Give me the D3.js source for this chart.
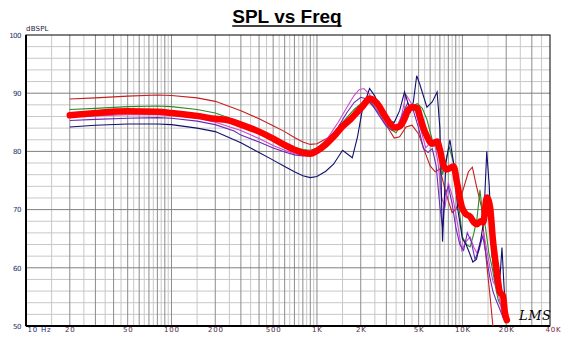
<!DOCTYPE html>
<html><head><meta charset="utf-8">
<script src="https://cdn.jsdelivr.net/npm/d3@7"></script>
<style>body{margin:0;background:#fff}svg{display:block}</style>
</head><body>
<svg id="c" width="575" height="344"></svg>
<script>
const titleText = "SPL vs Freq";
const yLabel = "dBSPL";
const yTicks = [50, 60, 70, 80, 90, 100];
const xTickValues = [10, 20, 50, 100, 200, 500, 1000, 2000, 5000, 10000, 20000, 40000];
const xTickLabels = ["10 Hz", "20", "50", "100", "200", "500", "1K", "2K", "5K", "10K", "20K", "40K"];

const darkRedFreq = [20,30,50,80,100,150,200,300,400,500,600,700,800,900,1000,1200,1500,1800,2100,2300,2600,3000,3400,3700,4100,4500,5000,5500,6000,6500,7000,7500,8000,8500,9000,10000,11000,11700,12500,13500,14500,15500,16200];
const darkRedDb   = [89.0,89.2,89.5,89.7,89.6,89.2,88.6,87.0,85.6,84.4,83.4,82.4,81.6,81.2,81.3,82.4,84.6,86.6,88.0,88.4,87.0,84.5,82.3,82.5,84.2,84.5,83.0,80.0,77.5,76.5,77.0,74.0,71.5,69.5,70.0,73.0,76.5,77.3,74.0,70.5,62.0,55.0,50.0];

const greenFreq = [20,30,50,80,100,150,200,300,400,500,600,700,800,900,1000,1200,1500,1800,2100,2300,2600,2900,3200,3500,3800,4100,4500,4900,5300,5700,6200,6700,7000,7300,7700,8100,8700,9300,10000,10700,11300,12000,12600,13200,13800,14400,15200,16000,16800,17600,18500,19500];
const greenDb   = [87.2,87.4,87.7,87.8,87.7,87.2,86.6,85.0,83.6,82.4,81.4,80.7,80.3,80.2,80.6,82.2,85.0,87.2,88.6,88.8,87.0,85.0,83.8,83.2,84.8,86.8,87.8,88.2,87.4,85.5,82.0,80.2,79.5,76.0,78.5,80.8,78.0,72.0,65.3,64.0,63.6,66.0,68.5,73.4,69.0,67.0,62.5,60.1,57.0,54.5,53.3,51.5];

const magentaFreq = [20,30,50,80,100,150,200,300,400,500,600,700,800,900,1000,1200,1400,1600,1800,1950,2100,2300,2600,2900,3200,3500,3800,4100,4400,4800,5200,5600,6000,6400,6800,7200,7600,8000,8600,9200,9900,10600,11300,12000,12600,13300,14000,14700,15500,16300,17200,18200,19000,19800];
const magentaDb   = [85.9,86.1,86.3,86.3,86.2,85.7,85.0,83.6,82.2,81.0,80.2,79.6,79.4,79.6,80.3,82.5,85.0,87.5,89.6,90.6,90.8,89.8,86.8,85.0,84.2,84.0,86.0,89.7,88.5,86.6,83.5,80.6,81.5,82.0,78.0,72.0,70.5,74.6,72.0,68.0,63.0,64.5,65.3,63.5,62.5,64.5,66.0,63.0,60.0,57.5,56.7,54.0,51.5,50.5];

const purpleFreq = [20,30,50,80,100,150,200,270,300,400,500,600,700,800,900,1000,1200,1400,1600,1800,2000,2200,2400,2700,3000,3300,3600,3900,4200,4600,5000,5400,5800,6200,6600,7000,7300,7600,8000,8500,9000,9600,10200,10800,11500,12200,13000,13800,14600,15400,16200,17000,18000,19000,20000];
const purpleDb   = [85.3,85.5,85.7,85.8,85.7,85.2,84.6,83.5,82.8,81.6,80.6,79.9,79.4,79.2,79.3,79.8,81.8,84.2,86.6,88.4,89.3,89.0,88.0,86.0,84.3,83.6,84.2,86.5,88.3,87.0,84.0,80.5,79.8,80.5,77.5,70.5,67.0,72.5,74.0,71.0,67.0,64.0,63.0,66.0,64.5,61.5,63.0,65.5,62.0,58.5,56.0,54.5,53.0,51.5,50.5];

const navyFreq = [20,30,50,80,100,150,200,300,400,500,600,700,800,900,1000,1150,1300,1500,1750,1900,2050,2300,2500,2800,3100,3400,3700,4000,4200,4400,4600,4850,5100,5700,6200,6700,7000,7300,7700,8200,8700,9300,10000,10600,11200,11800,12500,13300,14000,14700,15300,16000,16800,17500,18200,18700,19300,20000];
const navyDb   = [84.2,84.5,84.7,84.7,84.6,84.0,83.4,81.5,79.8,78.5,77.4,76.5,75.8,75.5,75.7,76.6,77.8,80.2,78.9,82.5,87.1,90.8,89.5,86.5,85.2,85.0,87.0,90.2,88.5,86.8,88.5,93.0,91.5,87.6,88.5,90.2,84.0,64.5,78.0,82.0,78.0,70.0,65.0,64.0,62.5,61.0,61.5,64.5,68.0,80.0,74.0,62.0,58.0,56.0,59.0,63.5,57.0,51.0];

const avgFreq = [20,30,50,80,100,150,200,250,300,400,500,600,700,800,900,1000,1150,1300,1500,1700,1900,2070,2300,2600,2900,3200,3450,3700,4000,4200,4500,4900,5100,5400,5700,6200,6700,7000,7400,7800,8300,8700,9200,9900,10500,11300,12000,12600,13300,13900,14700,15500,16200,17300,18100,19000,19600,20200];
const avgDb   = [86.2,86.6,86.9,86.8,86.6,86.1,85.6,85.3,84.6,83.4,82.2,81.1,80.3,79.8,79.6,80.1,81.2,82.5,84.3,85.5,86.8,87.8,89.1,88.2,86.3,84.7,84.1,84.3,85.6,86.9,87.6,87.4,86.0,84.0,82.6,81.3,81.7,80.3,77.6,76.9,77.2,77.4,74.5,70.5,69.3,68.8,67.8,67.5,68.0,67.8,72.1,70.4,64.8,59.1,55.8,55.2,52.3,51.0];

const thinSeries = [
  {name: "darkred", freq: darkRedFreq, db: darkRedDb, color: "#c81e1e"},
  {name: "green", freq: greenFreq, db: greenDb, color: "#2a8a2a"},
  {name: "magenta", freq: magentaFreq, db: magentaDb, color: "#d048d0"},
  {name: "purple", freq: purpleFreq, db: purpleDb, color: "#6a2ab8"},
  {name: "navy", freq: navyFreq, db: navyDb, color: "#10106e"}
];

const svg = d3.select("#c");
const L = 26, R = 550, T = 35, B = 326;
const x = d3.scaleLog().domain([10, 40000]).range([L, R]);
const y = d3.scaleLinear().domain([50, 100]).range([B, T]);

// title
const title = svg.append("text").attr("x", 287).attr("y", 23).attr("text-anchor", "middle")
  .attr("font-family", "Liberation Sans, Arial, sans-serif").attr("font-weight", "bold")
  .attr("font-size", 19).attr("fill", "#000").text(titleText);
const tb = title.node().getBBox();
svg.append("line").attr("x1", tb.x).attr("x2", tb.x + tb.width).attr("y1", 26).attr("y2", 26)
  .attr("stroke", "#000").attr("stroke-width", 1.6);

// grid
const g = svg.append("g");
const hMinor = d3.range(52, 100, 2).filter(v => v % 10 !== 0);
g.selectAll(".hm").data(hMinor).join("line")
  .attr("x1", L).attr("x2", R).attr("y1", d => y(d)).attr("y2", d => y(d))
  .attr("stroke", "#c8c8c8").attr("stroke-width", 1);
const vLight = [], vDark = [];
[10, 100, 1000, 10000].forEach(dec => {
  for (let m = 1; m <= 9; m++) {
    if (dec * m > 10 && dec * m < 40000) vDark.push(dec * m);
    if (dec * (m + 0.5) < 40000) vLight.push(dec * (m + 0.5));
  }
});
g.selectAll(".vl").data(vLight).join("line")
  .attr("x1", d => x(d)).attr("x2", d => x(d)).attr("y1", T).attr("y2", B)
  .attr("stroke", "#c8c8c8").attr("stroke-width", 1);
g.selectAll(".vd").data(vDark).join("line")
  .attr("x1", d => x(d)).attr("x2", d => x(d)).attr("y1", T).attr("y2", B)
  .attr("stroke", "#8c8c8c").attr("stroke-width", 1);
g.selectAll(".hM").data(yTicks.filter(v => v > 50 && v < 100)).join("line")
  .attr("x1", L).attr("x2", R).attr("y1", d => y(d)).attr("y2", d => y(d))
  .attr("stroke", "#808080").attr("stroke-width", 1);

// frame
svg.append("rect").attr("x", L).attr("y", T).attr("width", R - L).attr("height", B - T)
  .attr("fill", "none").attr("stroke", "#000").attr("stroke-width", 1);
svg.append("line").attr("x1", L).attr("x2", L).attr("y1", T).attr("y2", B).attr("stroke", "#000").attr("stroke-width", 2);
svg.append("line").attr("x1", L).attr("x2", R).attr("y1", B).attr("y2", B).attr("stroke", "#000").attr("stroke-width", 2);

// axes labels
const yAxis = d3.axisLeft(y).tickValues(yTicks).tickSize(0).tickPadding(5).tickFormat(d3.format("d"));
const ya = svg.append("g").attr("transform", `translate(${L},0)`).call(yAxis);
ya.select(".domain").remove();
ya.selectAll("text").attr("font-family", "DejaVu Sans, sans-serif").attr("font-size", 7)
  .attr("fill", "#1c2c6c").attr("letter-spacing", "-0.5");

const xAxis = d3.axisBottom(x).tickValues(xTickValues).tickSize(0).tickPadding(1)
  .tickFormat((d, i) => xTickLabels[i]);
const xa = svg.append("g").attr("transform", `translate(0,${B})`).call(xAxis);
xa.select(".domain").remove();
xa.selectAll("text").attr("font-family", "DejaVu Sans, sans-serif").attr("font-size", 7)
  .attr("fill", "#4a1f3f").attr("letter-spacing", "0.8");
xa.selectAll(".tick").filter(d => d === 10).select("text").attr("text-anchor", "start").attr("dx", 1).attr("fill", "#1c2c6c");
xa.selectAll(".tick").filter(d => d === 40000).select("text").attr("dx", 3).attr("fill", "#7a1a3a");

svg.append("text").attr("x", 26).attr("y", 31).attr("font-family", "DejaVu Sans, sans-serif")
  .attr("font-size", 7).attr("fill", "#1a1a3a").attr("letter-spacing", "0.2").text(yLabel);

// curves
svg.append("clipPath").attr("id", "clip").append("rect").attr("x", L).attr("y", T).attr("width", R - L).attr("height", B - T + 1);
const plot = svg.append("g").attr("clip-path", "url(#clip)");
const lineThin = d3.line().x(d => x(d[0])).y(d => y(d[1])).curve(d3.curveLinear);
thinSeries.forEach(s => {
  plot.append("path").datum(s.freq.map((f, i) => [f, s.db[i]]))
    .attr("d", lineThin).attr("fill", "none").attr("stroke", s.color).attr("stroke-width", 1.1);
});
const lineThick = d3.line().x(d => x(d[0])).y(d => y(d[1])).curve(d3.curveMonotoneX);
plot.append("path").datum(avgFreq.map((f, i) => [f, avgDb[i]]))
  .attr("d", lineThick).attr("fill", "none").attr("stroke", "#ff0000").attr("stroke-width", 6.5)
  .attr("stroke-linejoin", "round").attr("stroke-linecap", "round");

// signature
svg.append("text").attr("x", 519).attr("y", 320).attr("font-family", "DejaVu Serif, serif")
  .attr("font-style", "italic").attr("font-size", 13).attr("fill", "#000").attr("letter-spacing", "0.5").text("LMS");
</script>
</body></html>
